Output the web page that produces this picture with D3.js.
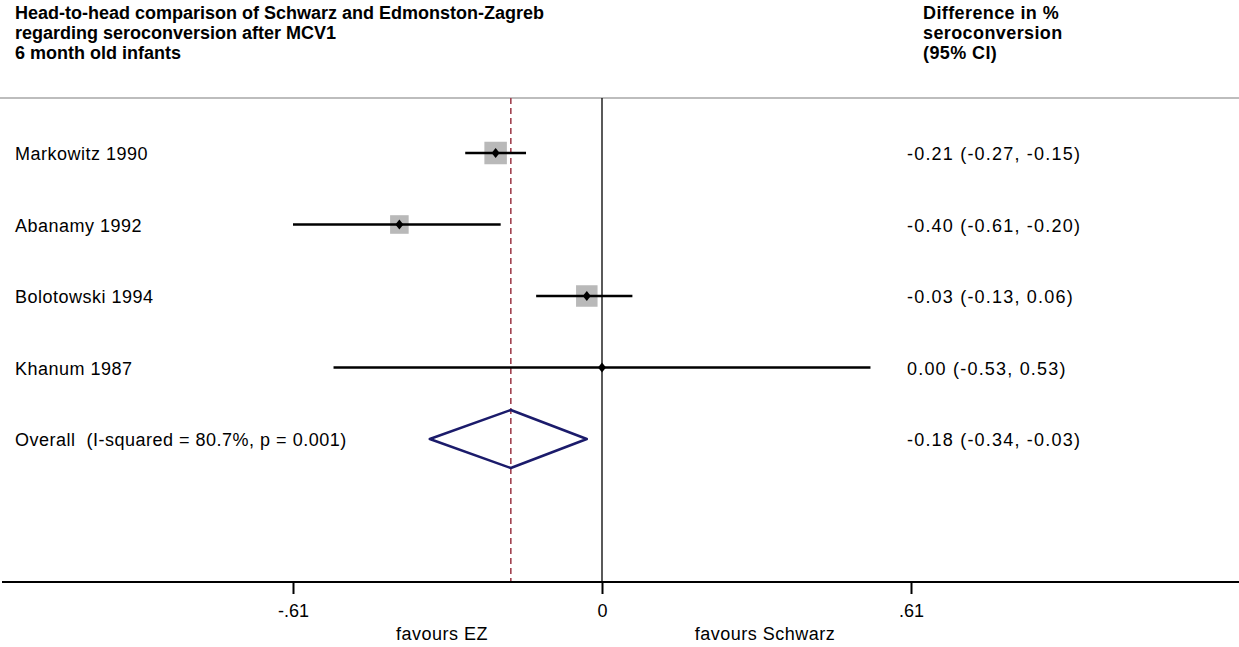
<!DOCTYPE html>
<html>
<head>
<meta charset="utf-8">
<script src="https://cdn.jsdelivr.net/npm/d3@7"></script>
<style>
  html, body { margin: 0; padding: 0; background: #fff; }
  svg { display: block; font-family: "Liberation Sans", Arial, Helvetica, sans-serif; }
  text { white-space: pre; }
</style>
</head>
<body>
<svg id="chart" width="1239" height="647"></svg>
<script>
// Study-level estimates: difference in % seroconversion (Schwarz vs Edmonston-Zagreb)
const studies = ["Markowitz 1990", "Abanamy 1992", "Bolotowski 1994", "Khanum 1987"];
const estimates = [-0.21, -0.40, -0.03, 0.00];
const lowerCI = [-0.27, -0.61, -0.13, -0.53];
const upperCI = [-0.15, -0.20, 0.06, 0.53];
const weights = [38.3, 26.1, 35.0, 0.6];

// Pooled estimate
const overallLabel = "Overall  (I-squared = 80.7%, p = 0.001)";
const overall = [-0.18, -0.34, -0.03];

const titleLines = [
  "Head-to-head comparison of Schwarz and Edmonston-Zagreb",
  "regarding seroconversion after MCV1",
  "6 month old infants"
];
const effectHeader = ["Difference in %", "seroconversion", "(95% CI)"];
const tickValues = [-0.61, 0, 0.61];
const tickLabels = ["-.61", "0", ".61"];
const sideLabels = ["favours EZ", "favours Schwarz"];

const W = 1239, H = 647;
const FS = 18;
const svg = d3.select("#chart");

const x = d3.scaleLinear().domain([-0.61, 0.61]).range([293, 911]);
const rows = studies.concat([overallLabel]);
const y = d3.scalePoint().domain(rows).range([153, 439]);
const side = d3.scaleSqrt().domain([0, d3.max(weights)]).range([0, 22.5]);

const topY = 98, axisY = 582;
const fmt = v => (v < 0 ? "-" : "") + Math.abs(v).toFixed(2);
const ciText = (e, l, u) => `${fmt(e)} (${fmt(l)}, ${fmt(u)})`;

// Header texts
const hdr = svg.append("g").attr("font-weight", "bold").attr("font-size", FS).attr("fill", "#000");
hdr.selectAll("text.t").data(titleLines).join("text")
  .attr("class", "t").attr("x", 15).attr("y", (d, i) => 19 + i * 20)
  .text(d => d);
hdr.selectAll("text.e").data(effectHeader).join("text")
  .attr("class", "e").attr("x", 923).attr("y", (d, i) => 19 + i * 20)
  .attr("letter-spacing", 0.4).text(d => d);

// Header separator
svg.append("line").attr("x1", 0).attr("x2", W).attr("y1", topY).attr("y2", topY)
  .attr("stroke", "#bdbdbd").attr("stroke-width", 2);

// Line of no effect
svg.append("line").attr("x1", x(0)).attr("x2", x(0)).attr("y1", topY).attr("y2", axisY)
  .attr("stroke", "#000").attr("stroke-width", 1.3);

// Overall effect reference line
svg.append("line").attr("x1", x(overall[0])).attr("x2", x(overall[0]))
  .attr("y1", topY).attr("y2", axisY)
  .attr("stroke", "#a0404f").attr("stroke-width", 1.6).attr("stroke-dasharray", "6,4");

// Study rows
const data = studies.map((s, i) => ({ s, e: estimates[i], l: lowerCI[i], u: upperCI[i], w: weights[i] }));
const g = svg.append("g");
g.selectAll("rect.box").data(data).join("rect")
  .attr("class", "box")
  .attr("x", d => x(d.e) - side(d.w) / 2)
  .attr("y", d => y(d.s) - side(d.w) / 2)
  .attr("width", d => side(d.w)).attr("height", d => side(d.w))
  .attr("fill", "#b9b9b9");
g.selectAll("line.ci").data(data).join("line")
  .attr("class", "ci")
  .attr("x1", d => x(d.l)).attr("x2", d => x(d.u))
  .attr("y1", d => y(d.s)).attr("y2", d => y(d.s))
  .attr("stroke", "#000").attr("stroke-width", 2.5);
g.selectAll("path.pt").data(data).join("path")
  .attr("class", "pt")
  .attr("d", d => {
    const cx = x(d.e), cy = y(d.s), r = 5;
    return `M${cx},${cy - r}L${cx + r * 0.8},${cy}L${cx},${cy + r}L${cx - r * 0.8},${cy}Z`;
  })
  .attr("fill", "#000");

// Pooled diamond
const oy = y(overallLabel);
svg.append("path")
  .attr("d", `M${x(overall[1])},${oy}L${x(overall[0])},${oy - 29}L${x(overall[2])},${oy}L${x(overall[0])},${oy + 29}Z`)
  .attr("fill", "none").attr("stroke", "#1b1b6b").attr("stroke-width", 2.5)
  .attr("stroke-linejoin", "round");

// Row labels
const lab = svg.append("g").attr("font-size", FS).attr("fill", "#000");
lab.selectAll("text.n").data(rows).join("text")
  .attr("class", "n").attr("x", 15).attr("y", d => y(d) + 7)
  .attr("letter-spacing", 0.5).text(d => d);
const effects = data.map(d => ciText(d.e, d.l, d.u)).concat([ciText(overall[0], overall[1], overall[2])]);
lab.selectAll("text.v").data(effects).join("text")
  .attr("class", "v").attr("x", 907).attr("y", (d, i) => y(rows[i]) + 7)
  .attr("letter-spacing", 1.2).text(d => d);

// Axis
const axis = d3.axisBottom(x).tickValues(tickValues)
  .tickFormat((d, i) => tickLabels[i]).tickSize(12).tickPadding(8);
const ax = svg.append("g").attr("transform", `translate(0,${axisY})`).call(axis);
ax.select(".domain").remove();
ax.selectAll(".tick line").attr("stroke", "#000").attr("stroke-width", 2);
ax.selectAll(".tick text").attr("font-size", FS).attr("fill", "#000")
  .attr("font-family", "Liberation Sans, Arial, sans-serif")
  .attr("dy", null).attr("y", 35);
svg.append("line").attr("x1", 2).attr("x2", W).attr("y1", axisY).attr("y2", axisY)
  .attr("stroke", "#000").attr("stroke-width", 2);

// Direction labels
svg.append("g").attr("font-size", FS).attr("fill", "#000").attr("text-anchor", "middle")
  .attr("letter-spacing", 0.5)
  .selectAll("text").data(sideLabels).join("text")
  .attr("x", (d, i) => i === 0 ? 442 : 765).attr("y", 640).text(d => d);
</script>
</body>
</html>
